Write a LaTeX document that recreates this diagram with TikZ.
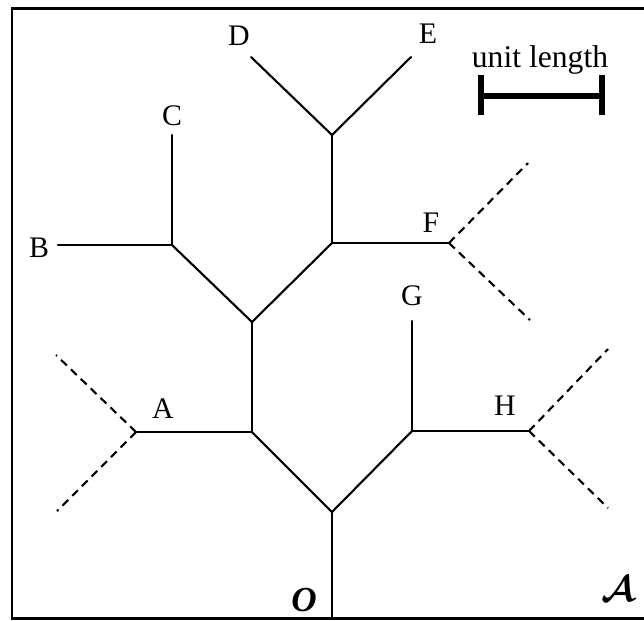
\documentclass[tikz,border=0pt]{standalone}
\usepackage{amsmath}
\usepackage{fontspec}
\setmainfont{Liberation Serif}
\usepackage{tikz}
\definecolor{myink}{RGB}{0,0,0}
\tikzset{
  branch/.style={line width=1.2pt, color=myink, line cap=round},
  ghost/.style={line width=1.2pt, color=myink, dash pattern=on 4.6pt off 3.2pt},
  frameline/.style={line width=1.7pt, color=myink},
  unitbar/.style={line width=3pt, color=myink},
  leaf/.style={font=\fontsize{17}{20}\selectfont, inner sep=0pt, anchor=base}
}

\begin{document}
\begin{tikzpicture}[x=0.02cm, y=-0.02cm]
  \useasboundingbox (0,0) rectangle (644,620);
  % frame
  \draw[frameline] (646,8) -- (12,8) -- (12,618) -- (646,618);

  % junctions and branch ends
  \coordinate (base) at (332,618);
  \coordinate (n1) at (332,512);
  \coordinate (n2) at (252,432);
  \coordinate (n3) at (412,431);
  \coordinate (n4) at (252,322);
  \coordinate (n5) at (172,245);
  \coordinate (n6) at (332,243);
  \coordinate (n7) at (332,135);
  \coordinate (endA) at (136,432);
  \coordinate (endB) at (58,245);
  \coordinate (endC) at (172,135);
  \coordinate (endD) at (251,57);
  \coordinate (endE) at (411,57);
  \coordinate (endF) at (449,243);
  \coordinate (endG) at (412,321);
  \coordinate (endH) at (529,431);
  \coordinate (gA1) at (56,355);
  \coordinate (gA2) at (57,511);
  \coordinate (gF1) at (528,163);
  \coordinate (gF2) at (530,320);
  \coordinate (gH1) at (608,349);
  \coordinate (gH2) at (608,508);

  % labels
  \node[leaf] (A) at (163,418) {A};
  \node[leaf] (B) at (39,257) {B};
  \node[leaf] (C) at (172,125) {C};
  \node[leaf] (D) at (239,45) {D};
  \node[leaf] (E) at (428,43) {E};
  \node[leaf] (F) at (431,232) {F};
  \node[leaf] (G) at (412,305) {G};
  \node[leaf] (H) at (505,415) {H};
  \node[inner sep=0pt, anchor=base, font=\fontsize{20}{23}\selectfont] (orig) at (304,611) {\textbf{\textit{O}}};
  \node[inner sep=0pt, anchor=base, font=\fontsize{22}{25}\selectfont] (space) at (618,601) {$\boldsymbol{\mathcal{A}}$};

  % unit length
  \node[inner sep=0pt, anchor=base, font=\fontsize{18}{21}\selectfont] (unit) at (540,67) {unit length};
  \coordinate (u1) at (481,96);
  \coordinate (u2) at (602,96);
  \draw[unitbar] (u1) -- (u2);
  \draw[unitbar] ([yshift=-11]u1) -- ([yshift=12]u1);
  \draw[unitbar] ([yshift=-11]u2) -- ([yshift=12]u2);

  % tree
  \draw[branch] (base) -- (n1);
  \draw[branch] (n1) -- (n2);
  \draw[branch] (n1) -- (n3);
  \draw[branch] (n2) -- (endA);
  \draw[branch] (n2) -- (n4);
  \draw[branch] (n4) -- (n5);
  \draw[branch] (n4) -- (n6);
  \draw[branch] (n5) -- (endB);
  \draw[branch] (n5) -- (endC);
  \draw[branch] (n6) -- (endF);
  \draw[branch] (n6) -- (n7);
  \draw[branch] (n7) -- (endD);
  \draw[branch] (n7) -- (endE);
  \draw[branch] (n3) -- (endG);
  \draw[branch] (n3) -- (endH);

  % dashed continuations
  \draw[ghost] (endA) -- (gA1);
  \draw[ghost] (endA) -- (gA2);
  \draw[ghost] (endF) -- (gF1);
  \draw[ghost] (endF) -- (gF2);
  \draw[ghost] (endH) -- (gH1);
  \draw[ghost] (endH) -- (gH2);
\end{tikzpicture}
\end{document}
